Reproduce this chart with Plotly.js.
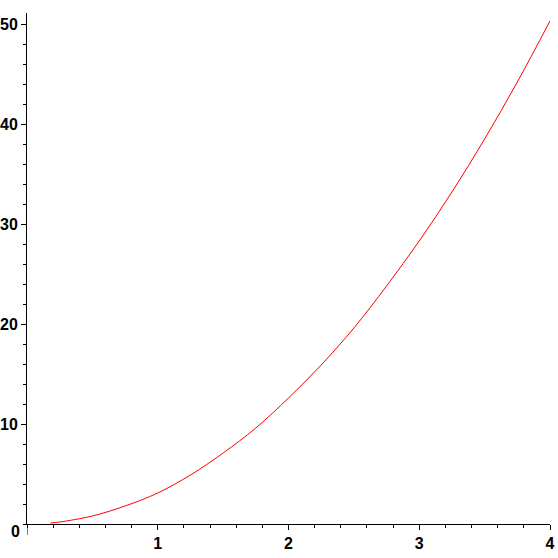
<!DOCTYPE html>
<html>
<head>
<meta charset="utf-8">
<script src="https://cdn.plot.ly/plotly-3.0.1.min.js"></script>
<style>html,body{margin:0;padding:0;background:#fff;}#chart{width:558px;height:558px;}</style>
</head>
<body>
<div id="chart"></div>
<script>
// values
var xValues = [0.18, 0.25, 0.5, 0.75, 1.0, 1.25, 1.5, 1.75, 2.0, 2.25, 2.5, 2.75, 3.0, 3.25, 3.5, 3.75, 4.0];
var yValues = [0.1, 0.2, 0.8, 1.8, 3.1, 4.9, 7.1, 9.6, 12.6, 15.9, 19.6, 23.8, 28.3, 33.2, 38.5, 44.2, 50.3];
var xTickVals = [1, 2, 3, 4];
var xTickText = ['1', '2', '3', '4'];
var yTickVals = [10, 20, 30, 40, 50];
var yTickText = ['10', '20', '30', '40', '50'];

var fam = 'Liberation Sans, Arial, sans-serif';
var tf = {family: fam, size: 16, color: '#000', weight: 'bold'};

var trace = {
  x: xValues, y: yValues, mode: 'lines', type: 'scatter',
  line: {color: '#ff0000', width: 1, shape: 'spline'},
  hoverinfo: 'none'
};

var layout = {
  width: 558, height: 558,
  margin: {l: 27, r: 8, t: 13, b: 34, pad: 0},
  paper_bgcolor: '#fff', plot_bgcolor: '#fff',
  showlegend: false,
  font: {family: fam, size: 16, color: '#000'},
  xaxis: {
    range: [0, 4], showgrid: false, zeroline: false,
    showline: true, linecolor: '#000', linewidth: 1,
    ticks: 'outside', ticklen: 5, tickwidth: 1, tickcolor: '#000',
    tickmode: 'array', tickvals: xTickVals, ticktext: xTickText,
    tickfont: tf,
    minor: {dtick: 0.2, tick0: 0, ticks: 'outside', ticklen: 3, tickcolor: '#000', showgrid: false}
  },
  yaxis: {
    range: [0, 51.1], showgrid: false, zeroline: false,
    showline: true, linecolor: '#000', linewidth: 1,
    ticks: 'outside', ticklen: 5, tickwidth: 1, tickcolor: '#000',
    tickmode: 'array', tickvals: yTickVals, ticktext: yTickText,
    tickfont: tf,
    minor: {dtick: 2, tick0: 0, ticks: 'outside', ticklen: 3, tickcolor: '#000', showgrid: false}
  },
  shapes: [{
    type: 'line', xref: 'x', yref: 'paper', x0: 0, x1: 0, y0: 0, y1: -11/511,
    line: {color: '#000', width: 1}
  }],
  annotations: [{
    xref: 'paper', yref: 'paper', x: 0, y: 0, xanchor: 'right', yanchor: 'top',
    xshift: -5, yshift: 3, showarrow: false, text: '0',
    font: tf
  }]
};

Plotly.newPlot('chart', [trace], layout, {displayModeBar: false, staticPlot: true});
</script>
</body>
</html>
